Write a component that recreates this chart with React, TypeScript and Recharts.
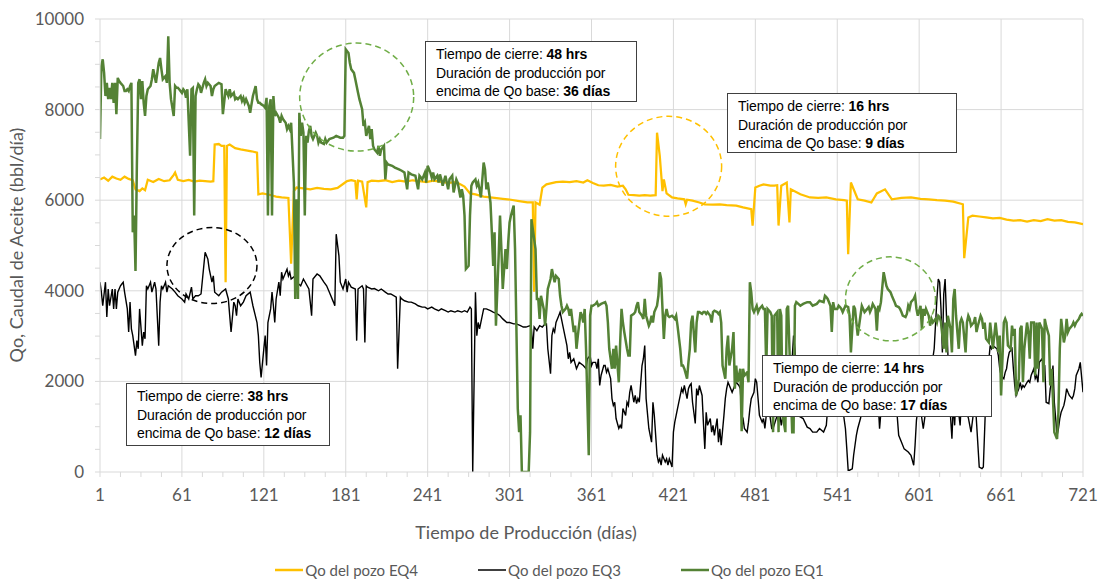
import React from 'react';
import { LineChart, Line, XAxis, YAxis, CartesianGrid, Legend, ReferenceDot } from 'recharts';

// ---------- data (day, Qo bbl/día) ----------
const eq4Points: [number, number][] = [
  [1,6460],[4,6500],[7,6430],[10,6520],[13,6480],[16,6450],[19,6520],[22,6470],[25,6440],[27,6240],[30,6200],[32,6260],[34,6220],[36,6450],[40,6400],[44,6470],[48,6420],[52,6440],[55,6560],[56,6610],[58,6450],[62,6420],[66,6450],[70,6410],[74,6430],[78,6420],[82,6410],[84,6420],[85,7230],[88,7240],[90,7200],[92,7200],[93,4190],[94,7200],[96,7230],[100,7150],[104,7120],[108,7100],[112,7080],[116,7050],[117,6130],[120,6150],[125,6120],[130,6080],[134,6060],[139,6050],[141,4600],[143,6200],[145,6280],[150,6260],[155,6240],[160,6270],[165,6250],[170,6240],[175,6270],[180,6380],[182,6420],[185,6440],[188,6420],[189,6020],[190,6430],[193,6410],[196,5840],[197,6400],[200,6430],[205,6420],[210,6440],[215,6400],[220,6430],[225,6410],[230,6440],[235,6420],[240,6400],[245,6430],[250,6410],[256,6380],[262,6400],[268,6300],[272,6150],[276,6130],[282,6080],[290,6050],[296,6030],[302,6010],[308,5980],[314,5950],[318,5950],[319,3980],[320,5950],[323,5900],[325,6280],[328,6350],[335,6400],[340,6410],[345,6400],[350,6420],[355,6390],[358,6440],[362,6380],[366,6330],[370,6320],[375,6340],[380,6300],[384,6320],[386,6240],[388,6120],[392,6110],[396,6100],[400,6110],[404,6100],[408,6110],[409,7490],[411,6980],[413,6200],[414,6460],[416,6150],[420,6060],[424,6040],[429,6020],[430,5910],[431,6010],[435,5990],[440,5950],[444,5910],[450,5900],[455,5910],[460,5890],[467,5880],[472,5840],[478,5800],[479,5440],[481,6280],[484,6320],[487,6350],[492,6320],[495,6320],[497,6330],[498,5440],[500,6320],[504,6390],[506,5510],[507,6240],[514,6130],[521,6060],[527,6050],[533,6060],[540,6020],[546,6000],[548,5990],[549,4810],[551,6390],[556,6020],[561,5990],[566,5950],[570,6150],[576,6240],[581,6020],[588,6050],[595,6060],[602,6030],[608,6020],[614,6000],[620,5990],[626,5970],[633,5910],[634,4720],[637,5620],[640,5660],[645,5640],[650,5620],[655,5600],[660,5610],[665,5570],[670,5550],[675,5560],[680,5530],[685,5560],[690,5540],[695,5580],[700,5550],[705,5560],[710,5520],[715,5510],[721,5470]
];

const eq3Points: [number, number][] = [
  [1,4190],[2,3970],[3,3670],[5,4190],[6,3420],[7,4040],[8,3670],[10,4040],[11,3600],[12,4040],[13,3600],[14,3970],[16,4110],[17,4150],[18,4190],[19,3970],[21,3600],[22,3090],[23,3750],[24,3160],[25,3010],[27,2570],[28,2900],[29,2720],[30,3600],[32,2790],[33,3090],[34,2940],[35,4110],[36,4040],[38,4190],[39,3970],[41,4190],[42,4040],[44,2790],[45,3750],[46,4110],[47,4040],[49,4190],[50,3970],[51,4110],[54,4040],[56,3970],[58,3890],[61,3820],[63,3750],[64,3930],[66,3820],[68,4080],[69,3820],[71,3890],[73,3890],[75,3930],[78,4850],[80,4700],[81,4480],[83,4190],[84,4330],[85,3970],[88,3890],[90,3970],[93,4040],[95,3820],[97,3090],[99,3750],[100,3670],[101,3450],[102,3820],[104,3670],[106,3750],[108,3890],[111,3970],[113,3670],[116,3300],[117,3010],[118,2420],[119,2090],[121,2720],[122,3010],[123,2350],[124,3300],[126,3600],[127,3970],[128,3670],[129,3300],[130,3820],[132,4190],[133,3890],[134,4410],[135,4260],[138,4480],[139,4330],[140,4410],[141,4260],[144,4330],[145,4190],[148,4110],[150,4260],[154,4040],[155,3750],[156,3450],[157,4260],[160,4370],[162,4330],[165,4190],[167,4110],[169,3970],[172,3750],[173,3670],[174,5250],[176,4770],[177,4190],[179,4040],[181,4260],[182,3970],[183,4190],[185,4080],[188,4040],[189,2900],[190,4040],[193,4110],[194,4040],[195,2860],[196,4110],[197,4080],[200,4040],[202,4050],[205,4000],[207,4040],[210,3970],[212,3930],[214,3930],[218,3860],[219,2280],[221,3860],[222,3820],[224,3780],[227,3750],[229,3750],[232,3710],[234,3670],[237,3640],[239,3640],[241,3600],[244,3640],[246,3600],[249,3560],[251,3600],[254,3560],[256,3530],[258,3560],[261,3530],[263,3560],[266,3530],[268,3560],[270,3530],[272,3640],[273,3600],[274,0],[276,3970],[277,3010],[278,3300],[279,3160],[282,3600],[284,3600],[287,3560],[289,3530],[292,3490],[294,3450],[296,3380],[299,3300],[301,3300],[304,3270],[306,3270],[309,3230],[311,3200],[313,3200],[316,3230],[317,3160],[318,2720],[319,3200],[321,3120],[323,3230],[325,3200],[327,3270],[328,3270],[329,2720],[331,2170],[332,3010],[333,3160],[334,3090],[335,3300],[337,3450],[338,3530],[339,3380],[340,3230],[342,2940],[343,2790],[344,2500],[345,2640],[346,2420],[348,2500],[350,2280],[352,2420],[355,2350],[357,2280],[358,2500],[360,2570],[361,2350],[362,2420],[364,2420],[365,2280],[366,2500],[367,1910],[368,2130],[370,2350],[371,2350],[372,2200],[373,2280],[375,2060],[376,1620],[377,1470],[378,1540],[379,1180],[381,960],[382,1030],[383,960],[384,1400],[386,1250],[387,1540],[388,1470],[389,1760],[390,1910],[392,1540],[393,1690],[394,1510],[395,1620],[396,1540],[398,2350],[399,2500],[400,2790],[401,1620],[403,960],[404,810],[405,660],[406,1540],[407,1250],[409,370],[410,220],[411,290],[412,150],[413,370],[415,220],[416,290],[417,150],[418,290],[420,110],[421,880],[422,1100],[423,1250],[424,1400],[426,1690],[427,1840],[428,1760],[429,1910],[431,1620],[432,1840],[433,1910],[434,1950],[435,1540],[437,1070],[438,1840],[439,1690],[440,1910],[442,1690],[443,1070],[444,510],[445,1320],[446,1030],[448,1180],[449,880],[450,1030],[451,810],[453,1180],[454,660],[455,955],[456,590],[458,1250],[459,1620],[460,1840],[461,1980],[462,1910],[464,1760],[465,1840],[466,1910],[467,1980],[469,1910],[470,1840],[471,1250],[472,1180],[473,960],[475,880],[476,1100],[477,1400],[478,1620],[480,1760],[481,2060],[482,1980],[483,1620],[484,1250],[486,1100],[487,1180],[488,960],[489,1250],[491,1400],[492,1180],[493,960],[494,960],[497,1250],[498,1100],[499,1250],[500,1030],[502,1400],[504,1250],[505,1620],[506,1980],[508,2500],[509,3010],[510,2720],[511,1980],[512,1250],[516,1180],[519,990],[521,960],[523,880],[526,880],[528,960],[531,880],[533,1030],[535,1800],[538,1500],[541,1250],[543,1700],[545,1400],[547,955],[548,510],[549,40],[550,40],[552,70],[553,370],[554,590],[555,810],[556,960],[558,1180],[561,1600],[564,1900],[567,1500],[570,2100],[572,955],[574,1700],[577,1800],[580,1500],[583,2000],[586,810],[588,660],[590,510],[593,440],[595,370],[597,150],[598,590],[599,1140],[601,1600],[604,955],[605,1180],[608,1800],[610,2300],[612,2720],[614,3820],[615,4260],[616,4190],[617,3600],[618,2640],[619,3930],[620,4260],[621,3450],[622,2640],[623,1700],[625,735],[626,1500],[627,1030],[628,1800],[631,1030],[632,1600],[634,1400],[637,1200],[639,880],[642,1600],[645,110],[647,73],[648,110],[650,1800],[653,2790],[654,2720],[655,2790],[658,2720],[659,2570],[660,2280],[661,2130],[663,2060],[664,2200],[665,2280],[666,2500],[667,2640],[669,2720],[670,2280],[671,1910],[672,1690],[674,1840],[675,1980],[676,1840],[677,1910],[678,1870],[680,1980],[681,2020],[682,1980],[683,2130],[685,2280],[686,2060],[687,2130],[688,1980],[689,2420],[691,2500],[692,2390],[693,2350],[694,1540],[696,1510],[697,1840],[698,1980],[699,2350],[700,1540],[702,810],[703,960],[704,1180],[705,1320],[707,1470],[708,1620],[709,1840],[710,1760],[711,1690],[713,1620],[714,1690],[715,1840],[716,2130],[718,2280],[719,2420],[721,1760]
];

const eq1Points: [number, number][] = [
  [1,7350],[2,8960],[3,9110],[4,8810],[5,8300],[6,8590],[7,8230],[8,8480],[9,8230],[10,8590],[11,8150],[12,8590],[13,7900],[14,8700],[15,8630],[16,8590],[18,8520],[19,8410],[20,8410],[21,8450],[22,8410],[23,8520],[24,8590],[25,5290],[26,5660],[27,4440],[28,6760],[29,8590],[30,8670],[31,8230],[32,8630],[33,8150],[34,7860],[35,8300],[36,8450],[38,8520],[39,8670],[40,8890],[42,8590],[43,8810],[44,9030],[45,9140],[46,8890],[47,8670],[49,8740],[50,8590],[51,9620],[52,8590],[53,8230],[55,7860],[56,8520],[57,8480],[58,8480],[59,8450],[61,8370],[62,8450],[63,8410],[64,8260],[65,8450],[67,6980],[68,8450],[69,8480],[70,5660],[71,8300],[72,8450],[73,8560],[74,8520],[75,8370],[77,8590],[78,8670],[79,8520],[80,8590],[82,8520],[83,8300],[84,8450],[85,8520],[88,8590],[90,8560],[91,7900],[93,8450],[94,8370],[95,8300],[96,8450],[97,8300],[99,8370],[100,8230],[101,8260],[102,8230],[104,8300],[105,8190],[106,8260],[107,8150],[108,8230],[110,8080],[111,7930],[112,8120],[113,8300],[115,8520],[116,8230],[117,8150],[118,8150],[119,8120],[121,8080],[122,8040],[123,8260],[124,5660],[125,8080],[126,8230],[127,5660],[128,8300],[129,7860],[130,7930],[132,7820],[133,7710],[134,7860],[135,7790],[137,7710],[138,7570],[139,7640],[140,7570],[141,7710],[143,6390],[144,3820],[145,6020],[146,3820],[147,7930],[148,7420],[149,7710],[150,7490],[151,5660],[152,7420],[153,7270],[154,7530],[155,7640],[156,7420],[157,7350],[159,7490],[160,7420],[161,7270],[162,7350],[163,7270],[165,7240],[166,7350],[167,7270],[169,7350],[172,7380],[174,7420],[177,7380],[179,7380],[180,7420],[181,9330],[183,9250],[184,9030],[185,8890],[187,8810],[188,8670],[189,8520],[190,8370],[191,8230],[193,8010],[194,7640],[195,7710],[196,7420],[198,7640],[199,7350],[200,7570],[201,7200],[202,7120],[204,7050],[205,7200],[206,6980],[207,7120],[209,7200],[210,6460],[211,6830],[212,6790],[215,6760],[217,6720],[220,6680],[222,6650],[224,6610],[226,6240],[227,6610],[229,6570],[232,6540],[234,6240],[235,6540],[237,6460],[239,6610],[240,6390],[241,6760],[243,6610],[244,6500],[245,6610],[246,6460],[248,6540],[249,6390],[250,6570],[251,6460],[252,6320],[254,6540],[255,6390],[256,6240],[257,6460],[259,6540],[260,6170],[261,6320],[262,6460],[263,6390],[265,6060],[266,6240],[267,6100],[268,5660],[269,4480],[271,4550],[272,5660],[273,6320],[274,6390],[276,6460],[277,6320],[278,6390],[279,6240],[280,6060],[282,6830],[283,6680],[284,6240],[285,6390],[287,5950],[288,5290],[289,4550],[290,5290],[291,3230],[293,4770],[294,5660],[295,4920],[296,4040],[298,4920],[299,4480],[300,5070],[301,5510],[302,5660],[304,5880],[305,4920],[306,3160],[307,1400],[308,880],[309,1250],[310,0],[315,0],[316,880],[317,5580],[318,5360],[320,4920],[321,3820],[322,3820],[323,3380],[324,3890],[326,3600],[327,3230],[328,3600],[329,4040],[331,4260],[332,4480],[333,4330],[334,4190],[335,4330],[337,4260],[338,3890],[339,3670],[340,3530],[342,3600],[343,3670],[344,3600],[345,3450],[346,3600],[348,3090],[349,3230],[350,2720],[351,3010],[353,3530],[354,3450],[355,3300],[356,3600],[357,2720],[359,370],[360,3450],[361,3670],[362,3670],[364,3710],[365,3750],[366,3670],[368,3710],[371,3750],[372,3670],[373,3300],[374,2720],[376,2280],[377,2720],[378,2280],[379,2790],[381,1980],[382,2860],[383,3600],[384,3300],[385,3090],[387,2720],[388,2570],[389,2570],[390,3450],[392,3490],[393,3530],[394,3670],[395,3750],[396,3530],[398,3450],[399,3380],[400,3820],[401,3450],[403,3230],[404,3300],[405,3450],[406,3300],[407,3530],[409,3670],[410,3890],[411,4410],[412,4260],[414,2940],[415,3450],[416,3600],[417,3450],[418,3420],[420,3450],[421,3420],[422,3380],[423,3450],[424,3230],[426,2720],[427,2350],[428,2350],[429,2280],[431,2060],[432,2420],[433,2720],[434,3300],[435,3450],[437,2640],[438,3300],[439,3530],[440,3530],[442,3490],[443,3530],[444,3530],[445,3490],[446,3530],[448,3450],[449,3300],[450,3530],[451,3560],[453,3530],[454,3490],[455,3530],[456,3300],[457,2350],[459,2060],[460,2720],[461,3010],[462,2350],[464,2720],[465,3090],[466,1840],[467,2350],[468,1980],[470,2280],[471,900],[472,2280],[473,2130],[475,2200],[476,1980],[477,4190],[478,3970],[479,3600],[480,3530],[481,3600],[482,3670],[483,3530],[484,3600],[486,3670],[487,3600],[488,3600],[489,2280],[490,3600],[492,3530],[493,3450],[494,880],[495,3450],[497,3530],[498,880],[499,3600],[500,3450],[501,1250],[503,880],[504,3600],[505,3670],[506,2720],[508,880],[509,880],[510,3670],[511,3750],[514,3670],[516,3710],[519,3750],[521,3750],[523,3670],[526,3710],[528,3780],[531,3750],[532,3890],[533,3860],[534,3820],[536,3670],[537,3090],[538,3750],[539,3600],[541,3600],[542,3670],[543,3640],[544,3600],[545,3530],[547,3670],[549,3640],[550,3450],[551,2640],[553,3670],[554,3600],[555,3300],[556,3010],[558,3450],[559,3670],[560,3600],[561,3530],[563,3600],[564,3640],[565,3530],[566,3600],[567,3710],[569,3600],[570,3120],[571,3670],[572,3600],[573,3750],[575,4410],[576,4260],[577,4110],[578,4040],[580,3970],[581,3890],[582,3820],[583,3750],[584,3670],[586,3640],[587,3600],[588,3530],[589,3450],[591,3420],[592,3490],[593,3670],[594,3600],[595,3750],[597,3820],[598,3890],[599,3600],[600,3450],[602,3670],[603,3160],[604,3600],[605,3450],[606,3600],[608,3450],[609,3230],[610,3380],[611,3300],[613,3380],[614,3300],[615,3450],[616,3420],[617,3300],[619,2720],[620,3300],[621,2640],[622,3450],[624,3160],[625,2640],[626,3820],[627,4040],[628,3450],[630,2720],[631,3300],[632,3380],[633,3300],[635,2640],[636,3300],[637,3450],[638,3380],[639,3230],[641,3300],[642,3420],[643,3090],[644,3230],[646,3450],[647,3380],[648,3160],[649,3300],[650,2940],[652,2860],[653,3300],[654,3010],[655,2720],[657,3300],[658,3010],[659,2640],[660,3010],[661,1690],[663,3300],[664,3380],[665,3300],[666,2790],[668,2720],[669,3230],[670,3010],[671,3160],[672,1690],[674,2060],[675,3160],[676,3230],[677,1980],[678,2720],[680,3300],[681,3090],[682,2500],[683,3300],[685,3300],[686,2130],[687,3300],[688,2280],[689,3300],[691,3160],[692,1980],[693,3380],[694,3230],[696,3010],[697,1910],[698,2280],[699,1620],[700,880],[702,730],[703,1320],[704,2720],[705,3380],[707,2860],[708,3010],[709,3380],[710,3090],[711,3160],[713,3230],[714,3300],[715,3230],[716,3300],[718,3380],[719,3450],[720,3490],[721,3450]
];

const xTicks: number[] = [];
for (let d = 1; d <= 721; d += 15) xTicks.push(d);
const xLabelTicks = [1, 61, 121, 181, 241, 301, 361, 421, 481, 541, 601, 661, 721];
const yTicks: number[] = [];
for (let v = 0; v <= 10000; v += 500) yTicks.push(v);
const yLabelTicks = [0, 2000, 4000, 6000, 8000, 10000];

const seriesNames = ['Qo del pozo EQ4', 'Qo del pozo EQ3', 'Qo del pozo EQ1'];
const seriesColors = ['#FFC000', '#000000', '#548235'];

// highlighted events (centre day, centre Qo)
const events = [
  { day: 83, qo: 4557, rx: 45, ry: 38, color: '#000000' },
  { day: 189, qo: 8276, rx: 57, ry: 54, color: '#70AD47' },
  { day: 417.5, qo: 6749, rx: 53, ry: 50, color: '#FFC000' },
  { day: 580, qo: 3822, rx: 45, ry: 42, color: '#70AD47' },
];

const notes = [
  { hrs: '48 hrs', dias: '36 días', left: 425, top: 41, width: 212, height: 61 },
  { hrs: '16 hrs', dias: '9 días', left: 727, top: 93, width: 230, height: 60 },
  { hrs: '38 hrs', dias: '12 días', left: 126, top: 383, width: 204, height: 63 },
  { hrs: '14 hrs', dias: '17 días', left: 762, top: 355, width: 230, height: 62 },
];

const toRows = (pts: [number, number][]) => pts.map(([day, v]) => ({ day, v }));
const eq4Data = toRows(eq4Points);
const eq3Data = toRows(eq3Points);
const eq1Data = toRows(eq1Points);

const AXIS_FONT = 'Lato, "Noto Sans", sans-serif';
const GRID = '#d9d9d9';
const TXT = '#595959';

const XTick = (props: any) => {
  const { x, y, payload } = props;
  const v = payload.value;
  return (
    <g>
      <line x1={x} y1={y} x2={x} y2={y + 5} stroke={GRID} strokeWidth={1} />
      {xLabelTicks.includes(v) && (
        <text x={x} y={y + 29} textAnchor="middle" fontFamily={AXIS_FONT} fontSize={17} fill={TXT}>
          {v}
        </text>
      )}
    </g>
  );
};

const YTick = (props: any) => {
  const { x, y, payload } = props;
  const v = payload.value;
  return (
    <g>
      <line x1={x - 5} y1={y} x2={x} y2={y} stroke={GRID} strokeWidth={1} />
      {yLabelTicks.includes(v) && (
        <text x={x - 16} y={y + 6} textAnchor="end" fontFamily={AXIS_FONT} fontSize={17} fill={TXT}>
          {v}
        </text>
      )}
    </g>
  );
};

const LegendContent = () => (
  <div style={{ display: 'flex', justifyContent: 'center', alignItems: 'center', gap: 60, fontFamily: AXIS_FONT, fontSize: 15, color: TXT, height: 26 }}>
    {seriesNames.map((n, i) => (
      <div key={n} style={{ display: 'flex', alignItems: 'center' }}>
        <svg width={28} height={10} style={{ marginRight: 2 }}>
          <line x1={0} y1={5} x2={28} y2={5} stroke={seriesColors[i]} strokeWidth={i === 1 ? 1.5 : 2.5} />
        </svg>
        <span>{n}</span>
      </div>
    ))}
  </div>
);

export default function App() {
  return (
    <div style={{ position: 'absolute', left: 0, top: 0, width: 1099, height: 580, background: '#fff' }}>
      <LineChart width={1099} height={580} margin={{ top: 19, right: 16, left: 0, bottom: 0 }}>
        <CartesianGrid
          stroke={GRID}
          strokeWidth={1}
          horizontalValues={[2000, 4000, 6000, 8000, 10000]}
          verticalValues={[61, 121, 181, 241, 301, 361, 421, 481, 541, 601, 661, 721]}
        />
        <XAxis
          dataKey="day"
          type="number"
          domain={[1, 721]}
          ticks={xTicks}
          interval={0}
          allowDataOverflow
          height={108}
          tickSize={0}
          tickMargin={0}
          tickLine={false}
          axisLine={{ stroke: GRID, strokeWidth: 1 }}
          tick={<XTick />}
          label={{
            content: () => (
              <text x={526} y={539} textAnchor="middle" fontFamily={AXIS_FONT} fontSize={18} fill={TXT}>
                Tiempo de Producción (días)
              </text>
            ),
          }}
        />
        <YAxis
          type="number"
          domain={[0, 10000]}
          ticks={yTicks}
          interval={0}
          allowDataOverflow
          width={100}
          tickSize={0}
          tickMargin={0}
          tickLine={false}
          axisLine={{ stroke: GRID, strokeWidth: 1 }}
          tick={<YTick />}
          label={{
            content: () => (
              <text
                x={23}
                y={245}
                transform="rotate(-90 23 245)"
                textAnchor="middle"
                fontFamily={AXIS_FONT}
                fontSize={18}
                fill={TXT}
              >
                Qo, Caudal de Aceite (bbl/día)
              </text>
            ),
          }}
        />
        <Legend
          verticalAlign="middle"
          align="center"
          layout="horizontal"
          wrapperStyle={{ top: 557, left: 0, width: 1099 }}
          content={<LegendContent />}
        />
        <Line data={eq4Data} dataKey="v" name={seriesNames[0]} type="linear" stroke={seriesColors[0]} strokeWidth={2.25} dot={false} isAnimationActive={false} />
        <Line data={eq3Data} dataKey="v" name={seriesNames[1]} type="linear" stroke={seriesColors[1]} strokeWidth={1.4} dot={false} isAnimationActive={false} />
        <Line data={eq1Data} dataKey="v" name={seriesNames[2]} type="linear" stroke={seriesColors[2]} strokeWidth={2.5} dot={false} isAnimationActive={false} />
        {events.map((e, i) => (
          <ReferenceDot
            key={i}
            x={e.day}
            y={e.qo}
            r={e.rx}
            ifOverflow="visible"
            shape={(p: any) => (
              <ellipse cx={p.cx} cy={p.cy} rx={e.rx} ry={e.ry} fill="none" stroke={e.color} strokeWidth={1.5} strokeDasharray="6 4" />
            )}
          />
        ))}
      </LineChart>
      {notes.map((n, i) => (
        <div
          key={i}
          style={{
            position: 'absolute',
            left: n.left,
            top: n.top,
            width: n.width,
            height: n.height,
            boxSizing: 'border-box',
            border: '1px solid #404040',
            background: '#fff',
            fontFamily: '"Liberation Sans", Arial, sans-serif',
            fontSize: 14,
            lineHeight: '18.5px',
            color: '#000',
            padding: '3px 0 0 10px',
            whiteSpace: 'nowrap',
            letterSpacing: -0.1,
          }}
        >
          <div>Tiempo de cierre: <b>{n.hrs}</b></div>
          <div>Duración de producción por</div>
          <div>encima de Qo base: <b>{n.dias}</b></div>
        </div>
      ))}
    </div>
  );
}
